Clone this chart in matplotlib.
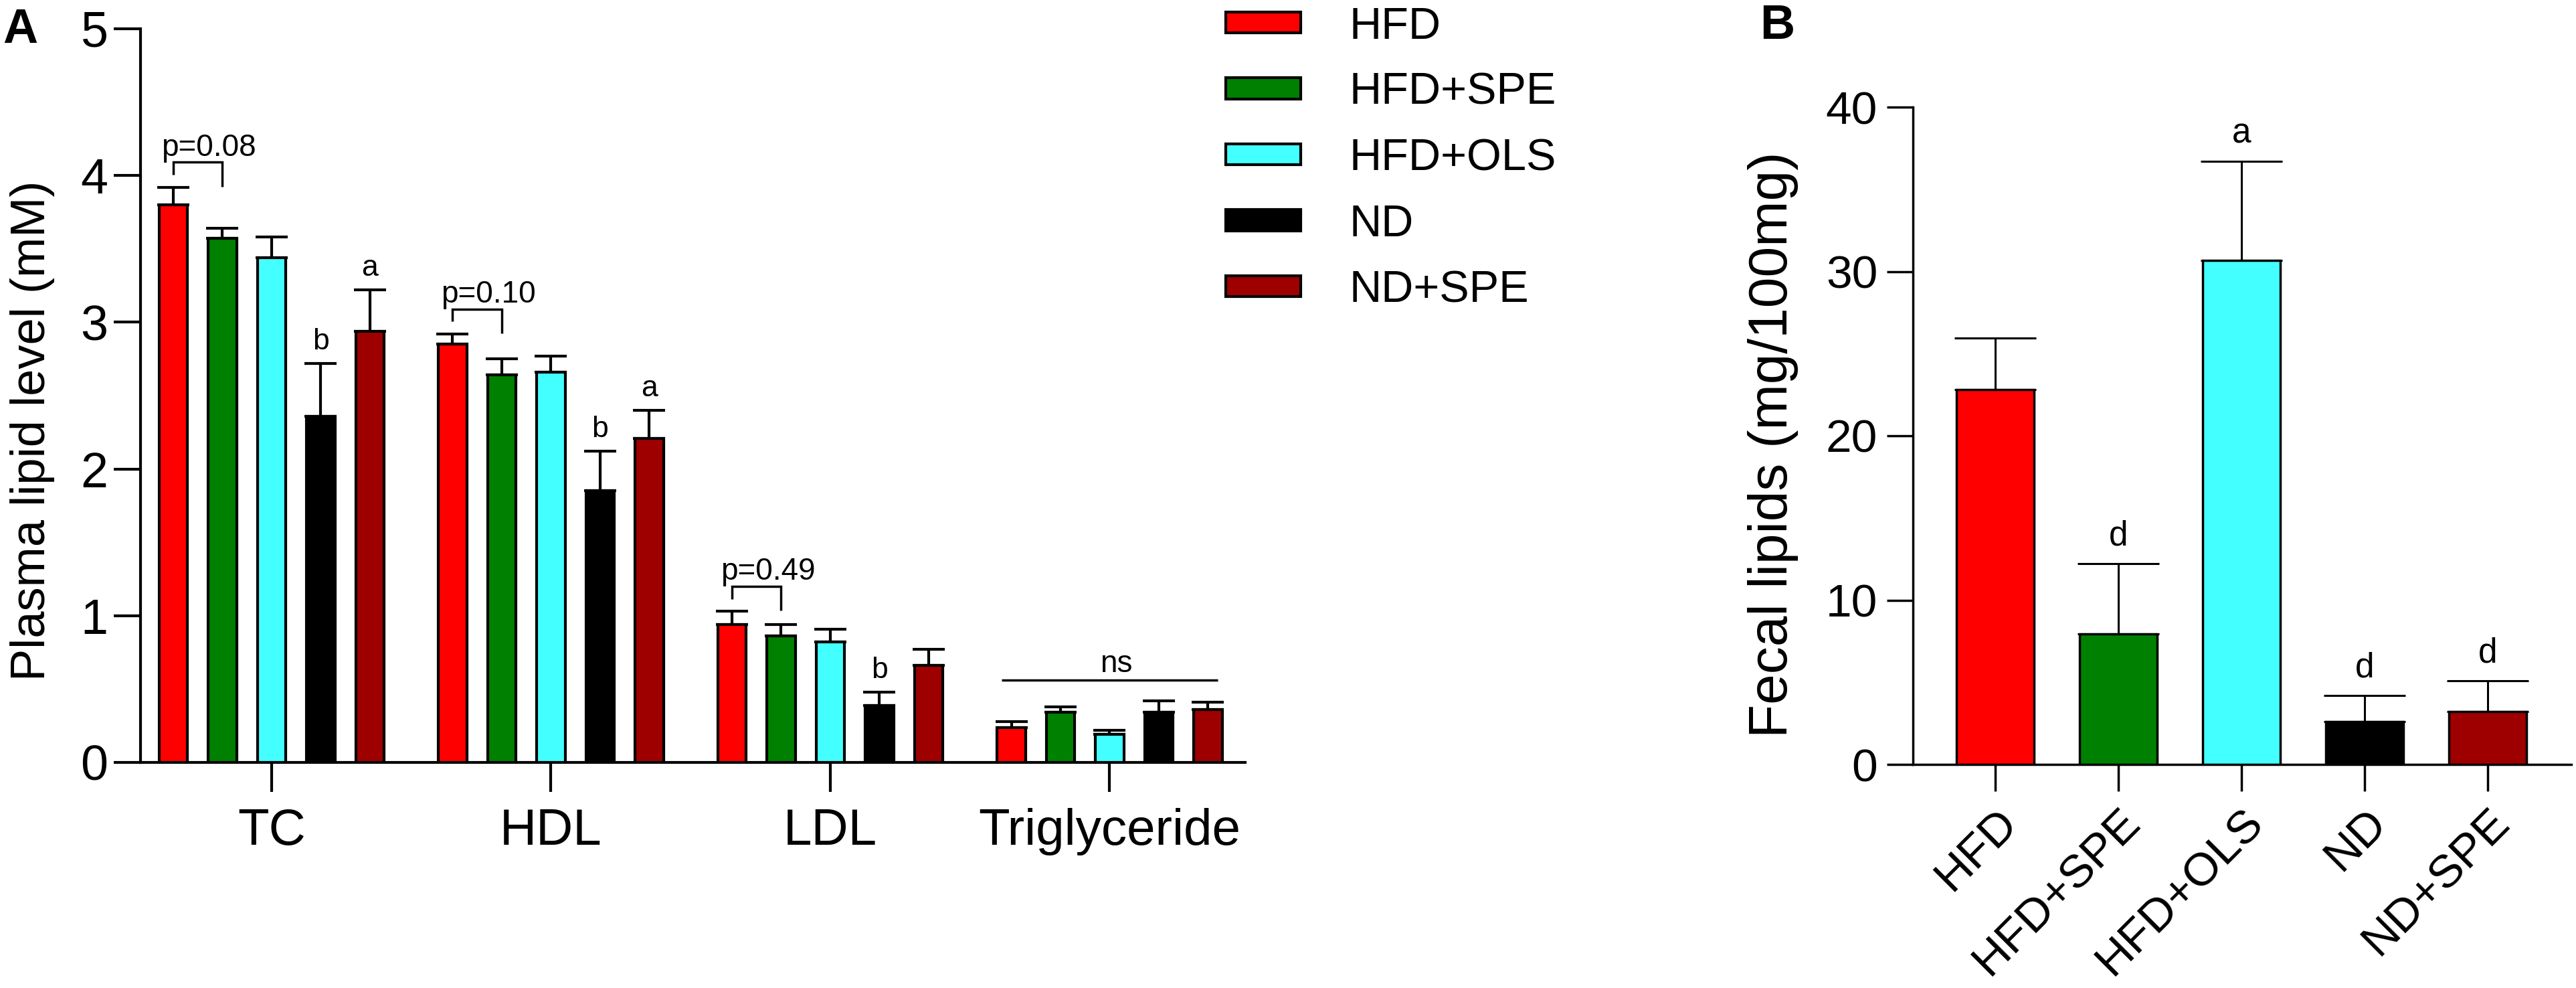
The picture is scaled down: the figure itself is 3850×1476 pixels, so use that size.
import matplotlib
matplotlib.use('Agg')
import matplotlib.pyplot as plt
import numpy as np
from matplotlib.patches import Rectangle

plt.rcParams['font.family'] = ['Liberation Sans', 'DejaVu Sans']

# ---------------- data ----------------
lipid_groups = ['TC', 'HDL', 'LDL', 'Triglyceride']
series_names = ['HFD', 'HFD+SPE', 'HFD+OLS', 'ND', 'ND+SPE']
series_colors = ['#FF0000', '#008000', '#44FFFF', '#000000', '#9E0000']

plasma_HFD = [3.80, 2.85, 0.94, 0.235]
plasma_HFD_SPE = [3.57, 2.64, 0.86, 0.34]
plasma_HFD_OLS = [3.44, 2.66, 0.82, 0.19]
plasma_ND = [2.36, 1.85, 0.39, 0.34]
plasma_ND_SPE = [2.94, 2.21, 0.66, 0.36]

plasma_err_HFD = [0.12, 0.07, 0.09, 0.045]
plasma_err_HFD_SPE = [0.07, 0.11, 0.08, 0.04]
plasma_err_HFD_OLS = [0.14, 0.11, 0.09, 0.03]
plasma_err_ND = [0.36, 0.27, 0.09, 0.08]
plasma_err_ND_SPE = [0.28, 0.19, 0.11, 0.05]

plasma_letters_ND = ['b', 'b', 'b', '']
plasma_letters_ND_SPE = ['a', 'a', '', '']
bracket_pvalues = ['p=0.08', 'p=0.10', 'p=0.49']

fecal_means = [22.8, 7.94, 30.67, 2.62, 3.22]
fecal_err = [3.15, 4.26, 6.03, 1.58, 1.88]
fecal_letters = ['', 'd', 'a', 'd', 'd']

plasma_means = [plasma_HFD, plasma_HFD_SPE, plasma_HFD_OLS, plasma_ND, plasma_ND_SPE]
plasma_errs = [plasma_err_HFD, plasma_err_HFD_SPE, plasma_err_HFD_OLS, plasma_err_ND, plasma_err_ND_SPE]
plasma_letters = [None, None, None, plasma_letters_ND, plasma_letters_ND_SPE]

# ---------------- figure ----------------
W, H = 3850, 1476
fig = plt.figure(figsize=(W / 100, H / 100), dpi=100)


def fx(px):
    return px / W


def fy(py):
    return 1 - py / H


axA = fig.add_axes([fx(210), fy(1139), (1861 - 210) / W, (1139 - 43) / H])
axB = fig.add_axes([fx(2859), fy(1142), (3843 - 2859) / W, (1142 - 160) / H])

LW = 3.0
step = 0.176
bw = 0.102
xg = np.arange(len(lipid_groups))

for i, name in enumerate(series_names):
    x = xg + (i - 2) * step
    m = np.array(plasma_means[i])
    e = np.array(plasma_errs[i])
    axA.bar(x, m, bw, color=series_colors[i], edgecolor='black', linewidth=LW, zorder=3)
    axA.errorbar(x, m, yerr=[np.zeros_like(e), e], fmt='none', ecolor='black',
                 elinewidth=LW, capsize=17, capthick=LW, zorder=2)
    if plasma_letters[i] is not None:
        for xx, yy, ee, lab in zip(x, m, e, plasma_letters[i]):
            if lab:
                axA.annotate(lab, (xx, yy + ee), xytext=(0, 15), textcoords='offset points',
                             ha='center', va='baseline', fontsize=32)

# p-value brackets (HFD vs HFD+SPE)
for g, ptxt in enumerate(bracket_pvalues):
    x1 = g - 2 * step
    x2 = g - step
    top = plasma_means[0][g] + plasma_errs[0][g] + 0.17
    axA.plot([x1, x1, x2, x2], [top - 0.085, top, top, top - 0.165], color='black', lw=2.5,
             solid_capstyle='butt', solid_joinstyle='miter', zorder=4)
    axA.annotate(ptxt, ((x1 + x2) / 2, top), xytext=(12, 7), textcoords='offset points',
                 ha='center', va='baseline', fontsize=33)

# ns line over triglyceride
g = 3
caps = [plasma_means[i][g] + plasma_errs[i][g] for i in range(len(series_names))]
yl = max(caps) + 0.14
xl1 = g - 2 * step - 0.035
xl2 = g + 2 * step + 0.035
axA.plot([xl1, xl2], [yl, yl], color='black', lw=2.5, solid_capstyle='butt', zorder=4)
axA.annotate('ns', ((xl1 + xl2) / 2, yl), xytext=(7, 9), textcoords='offset points',
             ha='center', va='baseline', fontsize=33)

axA.set_xlim(-0.469, 3.485)
axA.set_ylim(0, 5)
axA.set_yticks(range(0, 6))
axA.set_xticks(xg)
axA.set_xticklabels(lipid_groups)
for s in ['top', 'right']:
    axA.spines[s].set_visible(False)
for s in ['left', 'bottom']:
    axA.spines[s].set_linewidth(LW)
axA.tick_params(axis='y', length=29, width=LW, pad=6, labelsize=53)
axA.tick_params(axis='x', length=32, width=LW, pad=17, labelsize=55)
axA.set_ylabel('Plasma lipid level (mM)', fontsize=52)
axA.yaxis.set_label_coords(-0.0775, 0.4526)

# ---------------- panel B ----------------
LWB = 2.5
xb = np.arange(len(series_names))
axB.bar(xb, fecal_means, 0.63, color=series_colors, edgecolor='black', linewidth=LWB, zorder=3)
axB.errorbar(xb, fecal_means, yerr=[np.zeros(len(fecal_err)), fecal_err], fmt='none',
             ecolor='black', elinewidth=2.2, capsize=44, capthick=2.2, zorder=2)
for xx, yy, ee, lab in zip(xb, fecal_means, fecal_err, fecal_letters):
    if lab:
        axB.annotate(lab, (xx, yy + ee), xytext=(0, 20), textcoords='offset points',
                     ha='center', va='baseline', fontsize=37)

axB.set_xlim(-0.668, 4.68)
axB.set_ylim(0, 40)
axB.set_yticks([0, 10, 20, 30, 40])
axB.set_xticks(xb)
axB.set_xticklabels(series_names, rotation=45, ha='right', rotation_mode='anchor')
for s in ['top', 'right']:
    axB.spines[s].set_visible(False)
for s in ['left', 'bottom']:
    axB.spines[s].set_linewidth(LWB)
axB.tick_params(axis='y', length=28, width=LWB, pad=10, labelsize=50)
axB.tick_params(axis='x', length=29, width=LWB, pad=10, labelsize=50)
axB.set_ylabel('Fecal lipids (mg/100mg)', fontsize=59)
axB.yaxis.set_label_coords(-0.1738, 0.487)

# ---------------- legend ----------------
for i, (name, col) in enumerate(zip(series_names, series_colors)):
    cy = 33.5 + i * 98.5
    fig.patches.append(Rectangle((fx(1832), fy(cy + 15.5)), 112 / W, 31 / H,
                                 transform=fig.transFigure, facecolor=col,
                                 edgecolor='black', linewidth=3))
    fig.text(fx(2016), fy(cy + 24), name, fontsize=48, ha='left', va='baseline')

# panel letters
fig.text(fx(4), fy(64), 'A', fontsize=52, fontweight='bold', ha='left', va='baseline')
fig.text(fx(2630), fy(58), 'B', fontsize=52, fontweight='bold', ha='left', va='baseline')

fig.savefig('out.png', dpi=100)
